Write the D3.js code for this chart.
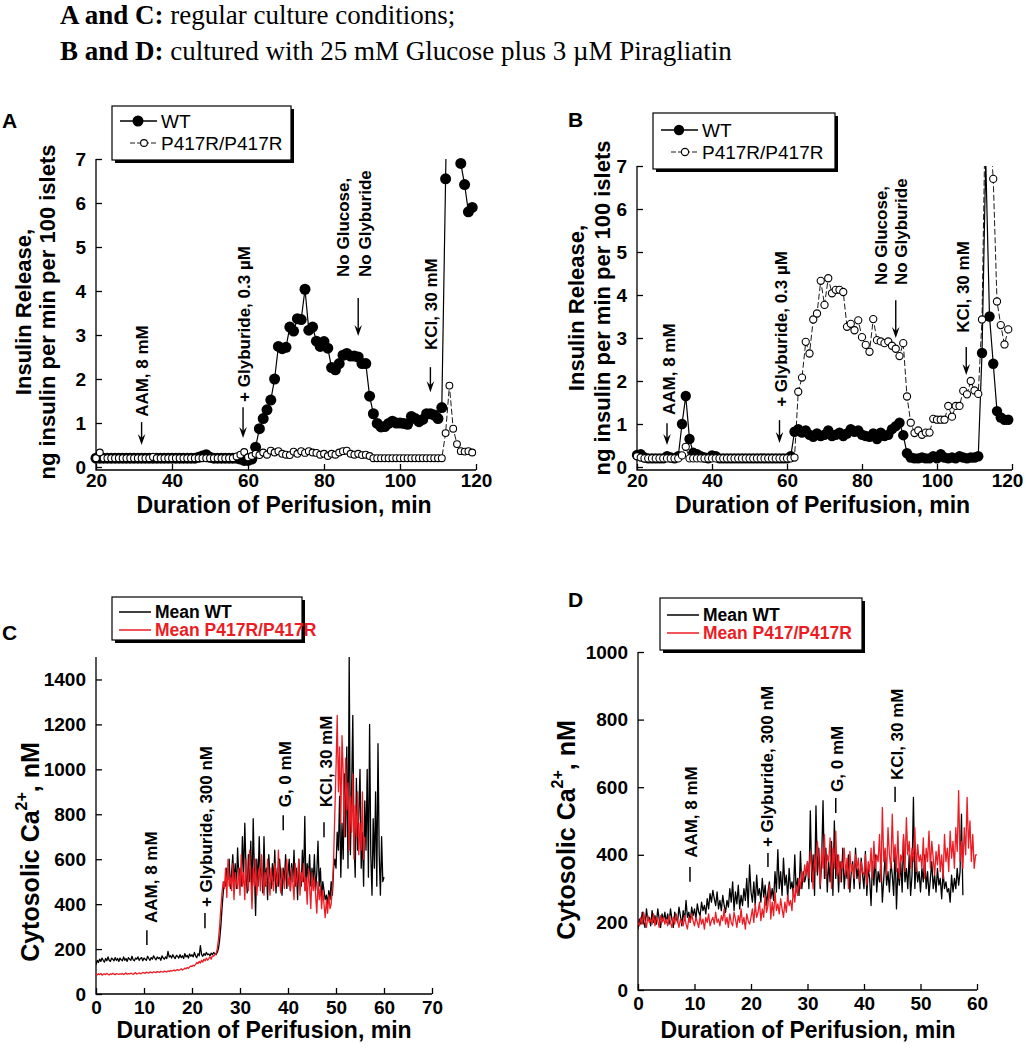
<!DOCTYPE html>
<html><head><meta charset="utf-8">
<script src="https://cdn.jsdelivr.net/npm/d3@7/dist/d3.min.js"></script>
<style>html,body{margin:0;padding:0;background:#fff}svg{display:block}</style>
</head><body>
<svg id="fig" width="1026" height="1050" xmlns="http://www.w3.org/2000/svg"></svg>
<script>
// ---------------- DATA ----------------
const headerLines = [
  ["A and C:", " regular culture conditions;"],
  ["B and D:", " cultured with 25 mM Glucose plus 3 \u00B5M Piragliatin"]
];
const minutesAB = d3.range(20, 120);
const seriesNamesAB = ["WT", "P417R/P417R"];
const aWT = [0.2,0.2,0.2,0.2,0.2,0.2,0.2,0.2,0.2,0.2,
  0.2,0.2,0.2,0.2,0.2,0.2,0.2,0.2,0.2,0.2,
  0.2,0.2,0.2,0.2,0.2,0.2,0.2,0.22,0.25,0.28,
  0.22,0.2,0.2,0.2,0.2,0.2,0.2,0.2,0.18,0.15,
  0.15,0.18,0.45,0.87,1.1,1.3,1.52,2.0,2.74,2.69,
  2.72,3.18,3.09,3.37,3.35,4.04,3.11,3.18,2.86,2.74,
  2.85,2.7,2.26,2.21,2.35,2.54,2.58,2.52,2.52,2.5,
  2.35,2.35,1.61,1.21,0.99,0.91,0.92,0.99,1.04,1.0,
  1.0,0.99,0.97,1.15,1.1,1.03,1.08,1.21,1.21,1.18,
  1.1,1.35,6.55,12,null,null,6.9,6.42,5.8,5.9];
const aMut = [0.2,0.33,0.2,0.2,0.2,0.2,0.2,0.2,0.2,0.2,
  0.2,0.2,0.2,0.2,0.2,0.23,0.2,0.2,0.2,0.2,
  0.2,0.2,0.2,0.2,0.2,0.2,0.2,0.2,0.2,0.2,
  0.2,0.2,0.2,0.2,0.2,0.2,0.2,0.24,0.28,0.34,
  0.22,0.25,0.3,0.27,0.33,0.28,0.37,0.33,0.36,0.3,
  0.28,0.27,0.35,0.3,0.36,0.32,0.36,0.33,0.32,0.28,
  0.3,0.25,0.3,0.28,0.33,0.36,0.37,0.3,0.28,0.3,
  0.27,0.28,0.25,0.2,0.2,0.2,0.2,0.2,0.2,0.2,
  0.2,0.2,0.2,0.2,0.2,0.2,0.2,0.2,0.2,0.2,
  0.2,0.2,0.77,1.85,0.87,0.52,0.36,0.35,0.36,0.33];
const bWT = [0.28,0.3,0.22,0.2,0.2,0.2,0.2,0.2,0.25,0.22,
  0.2,0.25,1.0,1.65,0.65,0.33,0.3,0.25,0.22,0.2,
  0.27,0.25,0.2,0.2,0.2,0.2,0.2,0.2,0.2,0.2,
  0.2,0.2,0.2,0.2,0.2,0.2,0.2,0.2,0.2,0.2,
  0.2,0.25,0.82,0.88,0.8,0.85,0.75,0.7,0.78,0.72,
  0.75,0.85,0.72,0.75,0.8,0.72,0.78,0.88,0.82,0.85,
  0.75,0.72,0.7,0.78,0.65,0.8,0.72,0.75,0.88,0.95,
  1.03,0.74,0.32,0.22,0.2,0.2,0.22,0.2,0.2,0.25,
  0.2,0.3,0.22,0.2,0.22,0.2,0.25,0.22,0.2,0.22,
  0.22,0.25,2.65,7.15,3.5,2.4,1.3,1.15,1.1,1.1];
const bMut = [0.25,0.22,0.2,0.2,0.2,0.2,0.2,0.2,0.2,0.2,
  0.2,0.2,0.27,0.47,0.2,0.2,0.2,0.2,0.2,0.2,
  0.2,0.2,0.2,0.2,0.2,0.2,0.2,0.2,0.2,0.2,
  0.2,0.2,0.2,0.2,0.2,0.2,0.2,0.2,0.2,0.2,
  0.2,0.2,0.22,1.75,2.08,2.91,2.64,3.43,3.57,4.33,
  3.77,4.39,4.04,4.12,4.12,4.07,3.26,3.33,3.18,3.41,
  3.02,2.84,2.68,3.44,2.95,2.92,2.88,2.92,2.82,2.75,
  2.58,2.88,1.64,1.03,0.79,0.85,0.75,0.8,0.8,1.12,
  1.1,1.1,1.1,1.42,1.17,1.42,1.42,1.77,1.69,2.0,
  1.78,1.7,3.43,9,8,6.7,3.85,3.3,2.85,3.2];
const xTicksAB = [20, 40, 60, 80, 100, 120];
const yTicksAB = [0, 1, 2, 3, 4, 5, 6, 7];

const caStep = 0.25; // minutes between samples
const seriesNamesC = ["Mean WT", "Mean P417R/P417R"];
const seriesNamesD = ["Mean WT", "Mean P417/P417R"];
const cWT = [130,150,140,155,145,160,150,142,158,148,165,150,145,160,155,148,162,150,158,145,
  160,152,148,165,150,158,145,162,155,150,168,152,148,160,155,165,150,158,162,148,
  160,155,150,168,158,150,162,155,170,160,152,165,158,162,150,170,160,155,165,158,
  190,165,170,160,175,165,158,172,168,160,175,162,170,158,180,165,172,160,178,168,
  175,165,185,170,162,180,170,215,175,168,180,172,185,175,178,170,182,175,185,178,
  175,185,200,240,300,380,450,500,480,560,510,600,470,540,620,500,580,470,650,520,
  560,480,700,520,760,560,450,620,500,680,420,780,540,350,600,480,700,520,560,450,
  700,480,560,420,620,520,470,580,500,640,450,560,480,600,520,440,560,500,620,470,
  540,600,460,580,500,640,480,560,420,600,520,480,640,500,790,460,580,520,620,480,
  560,500,620,460,540,680,480,560,420,500,460,420,440,400,460,420,500,440,560,600,
  560,720,640,880,520,760,600,980,700,1100,560,1500,620,900,1240,700,520,960,640,800,
  1000,560,720,480,860,640,1000,520,1200,620,440,780,560,900,480,1114,620,440,700,500,
  520];
const cMut = [88,85,90,86,92,84,88,90,86,92,88,85,90,87,92,88,86,91,89,87,
  90,88,92,86,90,94,88,91,89,93,90,87,92,95,89,91,94,90,92,96,
  94,92,97,95,93,98,96,94,99,97,95,100,98,96,101,99,97,102,100,98,
  103,100,105,102,104,107,103,106,109,105,108,112,107,110,115,112,118,114,120,125,
  122,128,125,132,140,135,145,138,150,142,155,148,160,150,158,165,155,170,168,175,
  180,200,240,300,380,450,500,470,560,430,600,480,520,460,580,420,540,500,470,560,
  440,620,480,540,420,600,500,460,640,520,380,560,480,600,440,520,560,460,620,500,
  440,540,480,600,520,440,560,500,460,580,520,480,640,500,450,560,520,470,540,600,
  480,520,460,560,500,420,580,480,520,600,440,540,500,580,460,520,400,560,480,380,
  540,460,520,440,360,500,420,480,380,460,400,340,420,360,440,380,400,480,600,800,
  1000,1240,900,1100,760,1150,980,700,1050,820,940,640,880,720,980,600,840,700,900,620,
  760,640,900,600,700];
const dWT = [180,210,195,230,200,185,240,205,215,190,235,200,220,195,240,210,185,225,205,230,
  200,225,195,240,210,185,230,215,200,245,220,190,235,205,265,215,230,200,245,220,
  240,210,255,230,220,260,235,250,225,270,240,285,260,295,270,250,290,240,265,235,
  280,250,230,265,245,300,260,320,235,290,255,310,240,280,250,300,265,330,245,370,
  290,260,320,250,340,280,300,260,330,275,310,250,290,320,270,300,265,350,290,415,
  300,350,280,390,310,340,270,360,300,320,280,400,290,330,280,410,300,350,320,340,
  380,300,530,320,400,280,545,340,420,300,380,560,330,420,290,380,320,440,280,500,
  330,400,290,380,320,420,300,360,330,400,290,350,380,300,420,330,360,300,390,340,
  300,410,280,360,330,250,380,310,400,290,350,320,380,260,330,400,310,350,290,380,
  340,280,420,240,360,310,380,290,450,320,360,300,400,280,340,570,300,380,320,350,
  290,360,320,400,300,350,280,330,380,300,340,290,360,310,330,270,350,300,320,290,
  300,260,340,290,330,300,360,310,350,520,280];
const dMut = [200,190,215,195,230,205,185,220,200,210,195,225,190,215,205,185,220,200,215,195,
  210,190,220,200,185,215,195,225,205,185,210,200,190,220,195,180,215,200,225,205,
  190,215,200,185,220,195,210,180,215,200,225,190,205,215,195,230,200,210,190,220,
  205,240,195,215,185,225,200,190,230,210,185,220,200,240,195,215,180,225,205,195,
  215,240,200,255,215,230,260,205,240,215,280,230,250,310,210,260,220,290,235,255,
  225,270,240,215,260,230,280,250,265,235,300,260,310,280,330,300,350,320,370,340,
  380,330,410,360,300,400,350,440,380,310,420,360,460,330,400,380,450,300,420,360,
  470,340,400,320,380,360,420,340,390,300,410,350,370,330,400,360,390,320,380,350,
  340,400,310,380,350,420,330,440,360,400,380,460,320,540,380,420,340,480,400,360,
  520,380,430,350,470,330,400,380,460,350,510,400,440,360,420,380,480,350,430,380,
  400,360,450,330,420,380,470,360,440,390,340,410,370,430,350,400,330,460,380,420,
  350,470,390,440,360,480,410,590,380,440,360,480,400,570,420,500,380,460,360,400,
  400];
const xTicksC = [0, 10, 20, 30, 40, 50, 60, 70];
const yTicksC = [0, 200, 400, 600, 800, 1000, 1200, 1400];
const xTicksD = [0, 10, 20, 30, 40, 50, 60];
const yTicksD = [0, 200, 400, 600, 800, 1000];
const annotTextAB = [["AAM, 8 mM"], ["+ Glyburide, 0.3 \u00B5M"], ["No Glucose,", "No Glyburide"], ["KCl, 30 mM"]];
const annotTextCD = ["AAM, 8 mM", "+ Glyburide, 300 nM", "G, 0 mM", "KCl, 30 mM"];
const xTitle = "Duration of Perifusion, min";
const yTitleAB = ["Insulin Release,", "ng insulin per min per 100 islets"];

// ---------------- DRAWING ----------------
const SANS = "'Liberation Sans', Arial, Helvetica, sans-serif";
const SERIF = "'Liberation Serif', 'Times New Roman', serif";
const RED = "#ec1c24";
const svg = d3.select("#fig");
svg.append("rect").attr("width", 1026).attr("height", 1050).attr("fill", "#fff");
const defs = svg.append("defs");

// header
const hdrY = [24, 60];
headerLines.forEach((ln, i) => {
  const t = svg.append("text").attr("x", 60).attr("y", hdrY[i])
    .attr("font-family", SERIF).attr("font-size", 27).attr("fill", "#000");
  t.append("tspan").attr("font-weight", "bold").text(ln[0]);
  t.append("tspan").text(ln[1]);
});

function styleAxis(sel, size) {
  sel.attr("font-family", SANS).attr("font-size", size).attr("font-weight", "bold");
  sel.selectAll(".tick line").attr("stroke", "#000").attr("stroke-width", 1.3);
  sel.selectAll(".tick text").attr("fill", "#000");
  sel.select(".domain").remove();
}
function rotText(g, cx, y0, txt, size, color) {
  return g.append("text").attr("x", cx).attr("y", y0)
    .attr("transform", `rotate(-90,${cx},${y0})`)
    .attr("dominant-baseline", "central")
    .attr("font-family", SANS).attr("font-weight", "bold").attr("font-size", size)
    .attr("fill", color || "#000").text(txt);
}
function arrowDown(g, x, yTop, yTip) {
  g.append("line").attr("x1", x).attr("x2", x).attr("y1", yTop).attr("y2", yTip - 5)
    .attr("stroke", "#000").attr("stroke-width", 1.4);
  g.append("path").attr("d", `M${x - 3.8},${yTip - 11}L${x},${yTip}L${x + 3.8},${yTip - 11}L${x},${yTip - 7}Z`)
    .attr("fill", "#000");
}
function legendFrame(g, x, y, w, h) {
  g.append("rect").attr("x", x + 3).attr("y", y + 3).attr("width", w).attr("height", h).attr("fill", "#000");
  g.append("rect").attr("x", x).attr("y", y).attr("width", w).attr("height", h)
    .attr("fill", "#fff").attr("stroke", "#000").attr("stroke-width", 1.2);
}

function drawInsulin(P) {
  const g = svg.append("g");
  const x = d3.scaleLinear().domain([20, 120]).range([P.left, P.right]);
  const y = d3.scaleLinear().domain([0, 7]).range([P.bottom, P.top]);
  const axisY = P.bottom + 3;
  const ya = g.append("g").attr("transform", `translate(${P.left},0)`)
    .call(d3.axisLeft(y).tickValues(yTicksAB).tickFormat(d3.format("d")).tickSizeInner(-6).tickSizeOuter(0).tickPadding(10));
  styleAxis(ya, 19);
  const xa = g.append("g").attr("transform", `translate(0,${axisY})`)
    .call(d3.axisBottom(x).tickValues(xTicksAB).tickFormat(d3.format("d")).tickSizeInner(-6).tickSizeOuter(0).tickPadding(3));
  styleAxis(xa, 19);
  if (P.lastLabelDx) xa.selectAll(".tick text").filter(d => d === 120).attr("dx", P.lastLabelDx);
  g.append("path").attr("d", `M${P.left},${y(7)}V${axisY}H${P.right}`)
    .attr("fill", "none").attr("stroke", "#000").attr("stroke-width", 1.3);

  // titles
  g.append("text").attr("x", (P.left + P.right) / 2 - 2).attr("y", P.xTitleY).attr("text-anchor", "middle")
    .attr("font-family", SANS).attr("font-weight", "bold").attr("font-size", 23).text(xTitle);
  yTitleAB.forEach((s, i) => rotText(g, P.yTitleX[i], P.yTitleCY, s, 22).attr("text-anchor", "middle"));
  g.append("text").attr("x", P.label[1]).attr("y", P.label[2]).attr("font-family", SANS)
    .attr("font-weight", "bold").attr("font-size", 21).text(P.label[0]);

  // clip
  const cid = "clip" + P.label[0];
  defs.append("clipPath").attr("id", cid).append("rect")
    .attr("x", P.left).attr("y", P.top).attr("width", P.right - P.left + 10).attr("height", axisY - P.top);
  const line = d3.line().defined(d => d.v != null).x(d => x(d.t)).y(d => y(d.v));
  const wt = P.wt.map((v, i) => ({ t: minutesAB[i], v }));
  const mu = P.mut.map((v, i) => ({ t: minutesAB[i], v }));
  g.append("path").datum(wt).attr("d", line).attr("fill", "none").attr("stroke", "#000")
    .attr("stroke-width", 1.2).attr("clip-path", `url(#${cid})`);
  g.append("g").selectAll("circle").data(wt.filter(d => d.v != null && d.v <= 7)).join("circle")
    .attr("cx", d => x(d.t)).attr("cy", d => y(d.v)).attr("r", P.rFill).attr("fill", "#000");
  g.append("path").datum(mu).attr("d", line).attr("fill", "none").attr("stroke", "#000")
    .attr("stroke-width", 0.9).attr("stroke-dasharray", "6,2.5").attr("clip-path", `url(#${cid})`);
  g.append("g").selectAll("circle").data(mu.filter(d => d.v != null && d.v <= 7)).join("circle")
    .attr("cx", d => x(d.t)).attr("cy", d => y(d.v)).attr("r", P.rOpen)
    .attr("fill", "#fff").attr("stroke", "#000").attr("stroke-width", 1.1);

  // annotations
  P.ann.forEach((a, k) => {
    const ax = x(a.x);
    arrowDown(g, ax, y(a.top), y(a.tip));
    annotTextAB[k].forEach((s, j) => rotText(g, ax + a.dx[j], y(a.textY), s, 17));
  });

  // legend
  const L = P.legend;
  legendFrame(g, L.x, L.y, L.w, L.h);
  g.append("line").attr("x1", L.x + 8).attr("x2", L.x + 45).attr("y1", L.rows[0]).attr("y2", L.rows[0])
    .attr("stroke", "#000").attr("stroke-width", 1.4);
  g.append("circle").attr("cx", L.x + 26).attr("cy", L.rows[0]).attr("r", P.rFill).attr("fill", "#000");
  g.append("line").attr("x1", L.x + 18).attr("x2", L.x + 45).attr("y1", L.rows[1]).attr("y2", L.rows[1])
    .attr("stroke", "#000").attr("stroke-width", 0.9).attr("stroke-dasharray", "5,2");
  g.append("circle").attr("cx", L.x + 32).attr("cy", L.rows[1]).attr("r", P.rOpen)
    .attr("fill", "#fff").attr("stroke", "#000").attr("stroke-width", 1.1);
  seriesNamesAB.forEach((s, i) => g.append("text").attr("x", L.x + 49).attr("y", L.rows[i])
    .attr("dominant-baseline", "central").attr("font-family", SANS).attr("font-size", 19).text(s));
}

function drawCa(P) {
  const g = svg.append("g");
  const x = d3.scaleLinear().domain([0, P.xmax]).range([P.left, P.right]);
  const y = d3.scaleLinear().domain([0, P.ymax]).range([P.bottom, P.top]);
  const ya = g.append("g").attr("transform", `translate(${P.left},0)`)
    .call(d3.axisLeft(y).tickValues(P.yTicks).tickFormat(d3.format("d")).tickSizeInner(-6).tickSizeOuter(0).tickPadding(10));
  styleAxis(ya, 19);
  const xa = g.append("g").attr("transform", `translate(0,${P.bottom})`)
    .call(d3.axisBottom(x).tickValues(P.xTicks).tickFormat(d3.format("d")).tickSizeInner(-6).tickSizeOuter(0).tickPadding(7));
  styleAxis(xa, 19);
  g.append("path").attr("d", `M${P.left},${P.top}V${P.bottom}H${P.right}`)
    .attr("fill", "none").attr("stroke", "#000").attr("stroke-width", 1.3);

  g.append("text").attr("x", P.xTitleX).attr("y", P.xTitleY).attr("text-anchor", "middle")
    .attr("font-family", SANS).attr("font-weight", "bold").attr("font-size", 23).text(xTitle);
  const yt = rotText(g, P.yTitleX, P.yTitleCY, "Cytosolic Ca", 25).attr("text-anchor", "middle");
  yt.append("tspan").attr("font-size", 16).attr("baseline-shift", "super").text("2+");
  yt.append("tspan").text(", nM");
  g.append("text").attr("x", P.label[1]).attr("y", P.label[2]).attr("font-family", SANS)
    .attr("font-weight", "bold").attr("font-size", 21).text(P.label[0]);

  const cid = "clip" + P.label[0];
  defs.append("clipPath").attr("id", cid).append("rect")
    .attr("x", P.left).attr("y", P.top).attr("width", P.right - P.left).attr("height", P.bottom - P.top);
  const line = d3.line().x(d => x(d.t)).y(d => y(d.v));
  [[P.wt, "#000"], [P.mut, RED]].forEach(([arr, col]) => {
    g.append("path").datum(arr.map((v, i) => ({ t: i * caStep, v })))
      .attr("d", line).attr("fill", "none").attr("stroke", col).attr("stroke-width", 1.3)
      .attr("stroke-linejoin", "round").attr("clip-path", `url(#${cid})`);
  });

  P.ann.forEach((a, k) => {
    const ax = x(a.x);
    g.append("line").attr("x1", ax).attr("x2", ax).attr("y1", y(a.top)).attr("y2", y(a.bot))
      .attr("stroke", "#000").attr("stroke-width", 1.5);
    rotText(g, ax + a.dx, y(a.textY), annotTextCD[k], 17);
  });

  const L = P.legend;
  legendFrame(g, L.x, L.y, L.w, L.h);
  [["#000", 0], [RED, 1]].forEach(([col, i]) => {
    g.append("line").attr("x1", L.x + 7).attr("x2", L.x + 39).attr("y1", L.rows[i]).attr("y2", L.rows[i])
      .attr("stroke", col).attr("stroke-width", 1.5);
    g.append("text").attr("x", L.x + 43).attr("y", L.rows[i]).attr("dominant-baseline", "central")
      .attr("font-family", SANS).attr("font-weight", "bold").attr("font-size", 17.5).attr("fill", col)
      .text(P.names[i]);
  });
}

drawInsulin({
  left: 96, right: 476, top: 159, bottom: 467, wt: aWT, mut: aMut, rFill: 5.5, rOpen: 3.4,
  xTitleY: 513, yTitleX: [23, 47], yTitleCY: 312, label: ["A", 2, 128],
  legend: { x: 112, y: 106, w: 179, h: 54, rows: [121, 143] },
  ann: [
    { x: 32, top: 1.02, tip: 0.5, textY: 1.14, dx: [1] },
    { x: 58.7, top: 1.36, tip: 0.66, textY: 1.48, dx: [1] },
    { x: 89, top: 3.84, tip: 2.98, textY: 4.32, dx: [-15, 7] },
    { x: 108, top: 2.27, tip: 1.7, textY: 2.66, dx: [1] }
  ]
});
drawInsulin({
  left: 637, right: 1012, top: 166, bottom: 467, wt: bWT, mut: bMut, rFill: 5.2, rOpen: 3.6,
  xTitleY: 513, yTitleX: [576, 602], yTitleCY: 308, label: ["B", 568, 127], lastLabelDx: -5,
  legend: { x: 653, y: 113, w: 182, h: 56, rows: [130, 152] },
  ann: [
    { x: 28, top: 1.02, tip: 0.51, textY: 1.21, dx: [3] },
    { x: 58, top: 1.09, tip: 0.56, textY: 1.4, dx: [2] },
    { x: 89, top: 3.88, tip: 3.0, textY: 4.23, dx: [-14, 6] },
    { x: 107.8, top: 2.79, tip: 2.14, textY: 3.12, dx: [-3] }
  ]
});
drawCa({
  left: 96, right: 432, xmax: 70, top: 657, bottom: 994, ymax: 1500, xTicks: xTicksC, yTicks: yTicksC,
  wt: cWT, mut: cMut, names: seriesNamesC, xTitleX: 264, xTitleY: 1038, yTitleX: 30, yTitleCY: 852,
  label: ["C", 2, 640],
  legend: { x: 112, y: 597, w: 190, h: 43, rows: [612, 630] },
  ann: [
    { x: 10.6, top: 284, bot: 218, textY: 316, dx: 5 },
    { x: 22.7, top: 360, bot: 293, textY: 387, dx: 2 },
    { x: 39, top: 796, bot: 729, textY: 831, dx: 2 },
    { x: 47.5, top: 764, bot: 698, textY: 831, dx: 3 }
  ]
});
drawCa({
  left: 638, right: 977, xmax: 60, top: 652, bottom: 990, ymax: 1000, xTicks: xTicksD, yTicks: yTicksD,
  wt: dWT, mut: dMut, names: seriesNamesD, xTitleX: 808, xTitleY: 1038, yTitleX: 566, yTitleCY: 830,
  label: ["D", 568, 607],
  legend: { x: 660, y: 598, w: 202, h: 52, rows: [615, 633] },
  ann: [
    { x: 9.2, top: 364, bot: 320, textY: 391, dx: 2 },
    { x: 23, top: 405, bot: 364, textY: 423, dx: 0 },
    { x: 35, top: 568, bot: 524, textY: 586, dx: 2 },
    { x: 45.5, top: 601, bot: 556, textY: 621, dx: 2 }
  ]
});
</script>
</body></html>
